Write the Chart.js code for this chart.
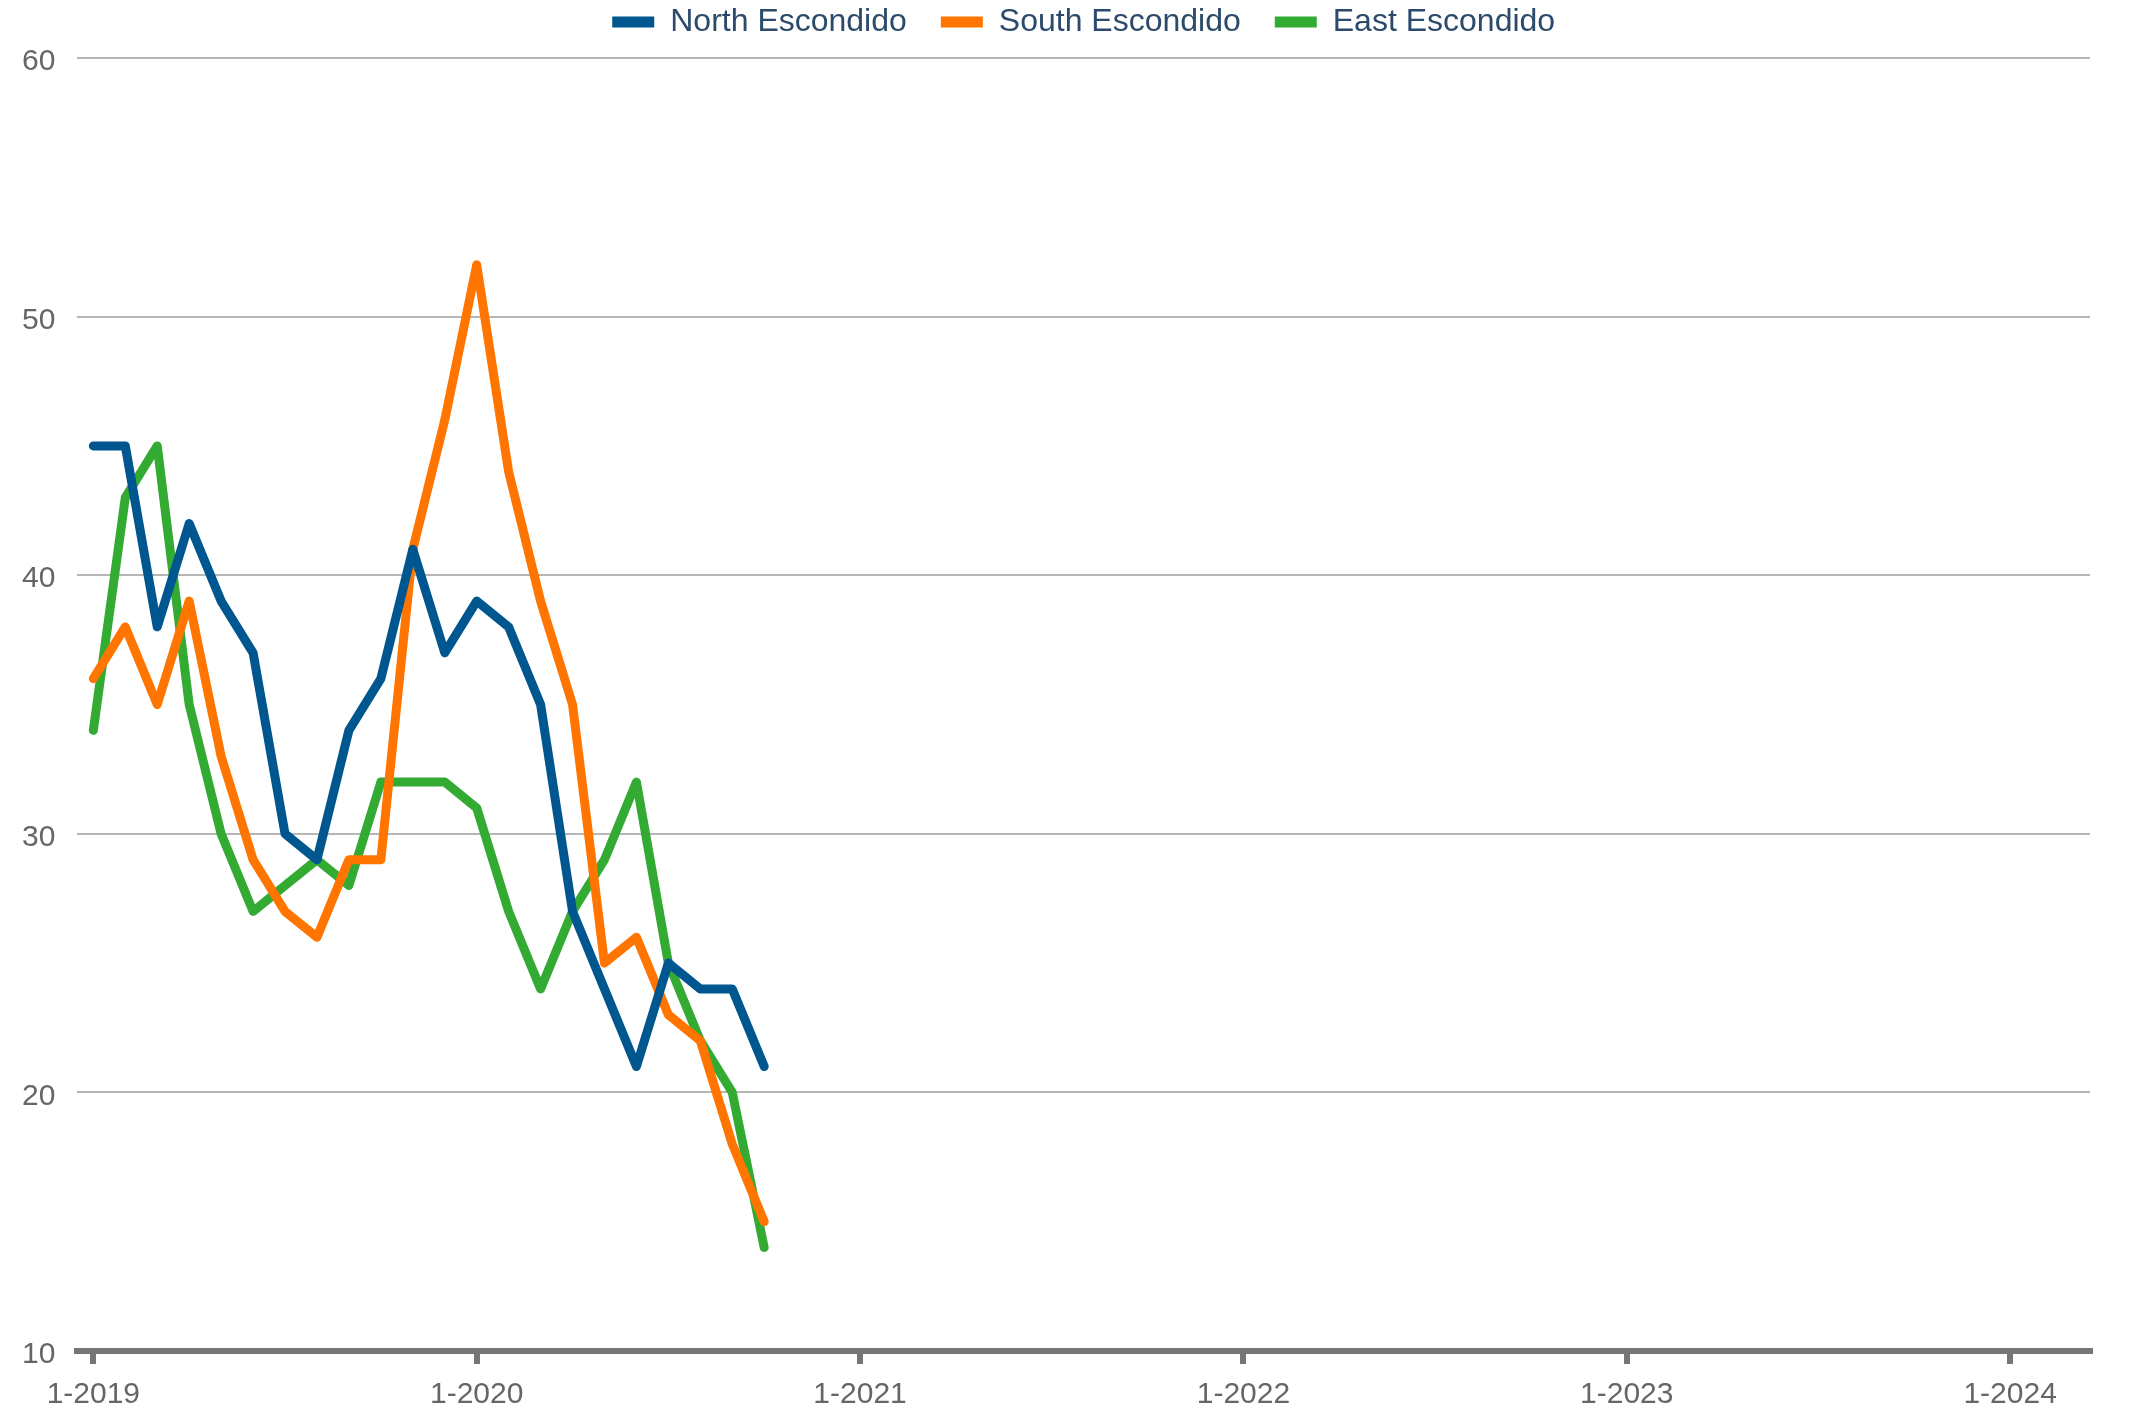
<!DOCTYPE html>
<html>
<head>
<meta charset="utf-8">
<script src="https://cdn.jsdelivr.net/npm/chart.js@4/dist/chart.umd.min.js"></script>
<style>
  html, body { margin: 0; padding: 0; background: #ffffff; }
  #wrap { width: 2156px; height: 1410px; position: relative; }
</style>
</head>
<body>
<div id="wrap"><canvas id="c"></canvas></div>
<script>
// Monthly categories: Jan 2019 .. Mar 2024
const months = [];
for (let y = 2019; y <= 2024; y++) {
  for (let m = 1; m <= 12; m++) {
    if (y === 2024 && m > 3) break;
    months.push(m + '-' + y);
  }
}
const seriesNames = ['North Escondido', 'South Escondido', 'East Escondido'];
const northValues = [45, 45, 38, 42, 39, 37, 30, 29, 34, 36, 41, 37, 39, 38, 35, 27, 24, 21, 25, 24, 24, 21];
const southValues = [36, 38, 35, 39, 33, 29, 27, 26, 29, 29, 41, 46, 52, 44, 39, 35, 25, 26, 23, 22, 18, 15];
const eastValues  = [34, 43, 45, 35, 30, 27, 28, 29, 28, 32, 32, 32, 31, 27, 24, 27, 29, 32, 25, 22, 20, 14];
const seriesColors = ['#00568f', '#ff7500', '#33ab33'];
const yTicks = [10, 20, 30, 40, 50, 60];

const FONT = "'Liberation Sans', Arial, sans-serif";

const datasets = [northValues, southValues, eastValues].map((vals, i) => ({
  label: seriesNames[i],
  data: vals,
  borderColor: seriesColors[i],
  backgroundColor: seriesColors[i],
  borderWidth: 9,
  pointRadius: 0,
  pointHoverRadius: 0,
  tension: 0,
  borderCapStyle: 'round',
  borderJoinStyle: 'round',
  fill: false
}));

new Chart(document.getElementById('c'), {
  type: 'line',
  data: { labels: months, datasets },
  options: {
    responsive: true,
    maintainAspectRatio: false,
    animation: false,
    layout: { padding: { top: -28, left: 0, right: 66, bottom: -16 } },
    plugins: {
      tooltip: { enabled: false },
      // empty spacer box between the legend and the plot area
      title: {
        display: true,
        text: '',
        position: 'top',
        weight: 500,
        fullSize: false,
        font: { size: 1, lineHeight: 1 },
        padding: { top: 9, bottom: 0 }
      },
      legend: {
        position: 'top',
        fullSize: false,
        weight: 1000,
        labels: {
          font: { family: FONT, size: 32 },
          color: '#2c4a6b',
          boxWidth: 42,
          boxHeight: 11,
          padding: 34,
          generateLabels: (chart) =>
            Chart.defaults.plugins.legend.labels.generateLabels(chart).map(l => ({
              ...l, lineWidth: 0, fillStyle: l.strokeStyle
            }))
        }
      }
    },
    scales: {
      x: {
        type: 'category',
        offset: true,
        border: { display: true, color: '#767676', width: 6 },
        grid: {
          offset: false,
          drawOnChartArea: false,
          drawTicks: true,
          tickLength: 13,
          lineWidth: 6,
          color: (ctx) => (ctx.index !== undefined && months[ctx.index] && months[ctx.index].startsWith('1-')) ? '#767676' : 'rgba(0,0,0,0)'
        },
        ticks: {
          autoSkip: false,
          maxRotation: 0,
          minRotation: 0,
          padding: 13,
          color: '#666666',
          font: { family: FONT, size: 30 },
          callback: function (val, idx) {
            const l = months[idx];
            return l && l.startsWith('1-') ? l : '';
          }
        }
      },
      y: {
        min: yTicks[0],
        max: yTicks[yTicks.length - 1],
        border: { display: false },
        grid: { color: '#b6b6b6', lineWidth: 2, drawTicks: false },
        afterBuildTicks: (scale) => { scale.ticks = yTicks.map(v => ({ value: v })); },
        ticks: {
          padding: 22,
          labelOffset: 4,
          color: '#666666',
          font: { family: FONT, size: 30 }
        }
      }
    }
  }
});
</script>
</body>
</html>
